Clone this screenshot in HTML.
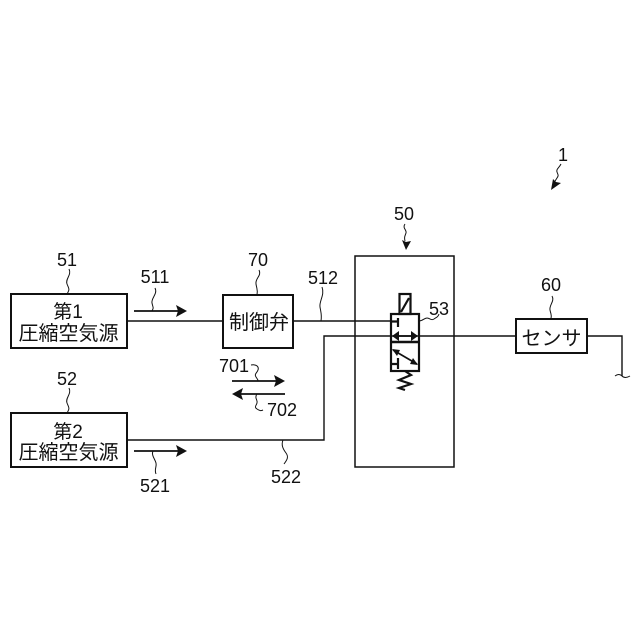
<!DOCTYPE html>
<html><head><meta charset="utf-8"><style>
html,body{margin:0;padding:0;background:#fff}
svg{display:block}
text{font-family:"Liberation Sans","Noto Sans CJK JP",sans-serif;fill:#111}
.n{font-size:18px;text-anchor:middle}
.j{font-size:20px;text-anchor:middle}
.b{fill:#fff;stroke:#111;stroke-width:2}
.l{fill:none;stroke:#111;stroke-width:1.4}
.t{fill:none;stroke:#111;stroke-width:1}
.a{fill:none;stroke:#111;stroke-width:1.7}
.v{fill:none;stroke:#111;stroke-width:2.2}
.h{fill:#111;stroke:none}
</style></head><body>
<svg width="640" height="640" viewBox="0 0 640 640" xmlns="http://www.w3.org/2000/svg">
<rect width="640" height="640" fill="#fff"/>
<rect class="b" x="11" y="294" width="116" height="54"/>
<rect class="b" x="11" y="413" width="116" height="54"/>
<rect class="b" x="223" y="295" width="70" height="53"/>
<rect x="355" y="256" width="99" height="211" fill="none" stroke="#111" stroke-width="1.5"/>
<rect class="b" x="516" y="319" width="71" height="34"/>

<path class="l" d="M127 321H223M293 321H391"/>
<path class="l" d="M127 440H324V336H516M587 336H622V376"/>
<path class="t" d="M615 376q4-3 7 0t8 0"/>

<!-- valve -->
<rect class="v" x="391" y="314" width="28" height="57"/>
<path d="M391 342H419" stroke="#111" stroke-width="2.6"/>
<rect class="v" x="399.500" y="294" width="11" height="20" fill="#fff"/>
<path class="v" d="M401 312L409 298"/>
<path class="v" d="M398 318V327M391 321.500H398"/>
<path class="a" d="M393 336H417"/>
<path class="h" d="M392 336l7-5v10zM418 336l-7-5v10z"/>
<path class="a" d="M393 350L417 364"/>
<path class="h" d="M392 349l8 1-3 6zM418 365l-8-1 3-6z"/>
<path class="v" d="M398 358V369M392 364H398"/>
<path class="v" d="M405 371L411 375L399 380L411 384L399 388L405 390"/>

<!-- arrows -->
<path class="a" d="M134 311H180"/><path class="h" d="M187 311L176 305L178 311L176 317z"/>
<path class="a" d="M134 451H180"/><path class="h" d="M187 451L176 445L178 451L176 457z"/>
<path class="a" d="M232 381H278"/><path class="h" d="M285 381L274 375L276 381L274 387z"/>
<path class="a" d="M239 394H285"/><path class="h" d="M232 394L243 388L241 394L243 400z"/>

<!-- leader squiggles -->
<path class="t" d="M69 269c3 6-4 10-2 15s3 5 0 10"/>
<path class="t" d="M69 388c3 6-4 10-2 15s3 5 0 10"/>
<path class="t" d="M155 288c3 6-4 10-3 15s2 4 0 8"/>
<path class="t" d="M153 451c-2 4 2 8 3 12s-2 6 0 11"/>
<path class="t" d="M259 270c3 6-4 8-3 14s2 6 1 11"/>
<path class="t" d="M322 287c3 8-3 14-2 20s2 8 1 14"/>
<path class="t" d="M251 365c6-1 8 2 7 5s-4 4-2 7 2 3 2 4"/>
<path class="t" d="M257 394c-3 4 1 6 0 9s-3 4 0 6 4 2 6 1"/>
<path class="t" d="M283 440c-2 5 0 9 3 13s1 7-2 11"/>
<path class="t" d="M552 296c3 5-3 9-2 14s2 5 1 9"/>
<path class="t" d="M419 321c4 0 5-3 8-3s4 3 7 1 4-2 5-5"/>
<path class="t" d="M405 224c-3 4 2 6 1 9s-2 4-1 8"/>
<path class="h" d="M406 250L402 240L406 242L411 241z"/>
<path class="t" d="M561 164c-2 4-5 5-4 8s2 3 0 6-2 3-3 5"/>
<path class="h" d="M551 190L553 179L556 182L561 183z"/>

<!-- labels -->
<text class="j" x="68" y="318" style="font-size:19px">第1</text>
<text class="j" x="68.500" y="340">圧縮空気源</text>
<text class="j" x="68" y="438" style="font-size:19px">第2</text>
<text class="j" x="68.500" y="459">圧縮空気源</text>
<text class="j" x="259" y="329">制御弁</text>
<text class="j" x="551.500" y="345">センサ</text>
<text class="n" x="67" y="266">51</text>
<text class="n" x="67" y="385">52</text>
<text class="n" x="155" y="283">511</text>
<text class="n" x="155" y="492">521</text>
<text class="n" x="258" y="266">70</text>
<text class="n" x="323" y="284">512</text>
<text class="n" x="234" y="372">701</text>
<text class="n" x="282" y="416">702</text>
<text class="n" x="286" y="483">522</text>
<text class="n" x="404" y="220">50</text>
<text class="n" x="439" y="315">53</text>
<text class="n" x="551" y="291">60</text>
<text class="n" x="563" y="161">1</text>
</svg>
</body></html>
